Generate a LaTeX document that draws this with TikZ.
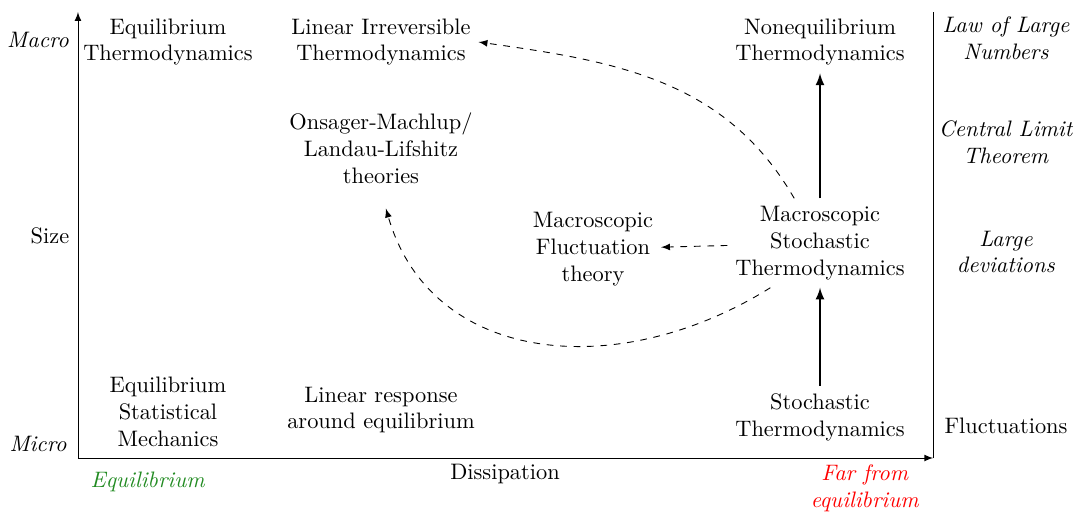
\documentclass[tikz,border=0pt]{standalone}
\usetikzlibrary{arrows}
\definecolor{eqgreen}{RGB}{34,139,34}
\begin{document}
\begin{tikzpicture}[>=latex, every node/.style={align=center}]
      \useasboundingbox (0,0) rectangle (16.923,8.038);
      % axes
      \coordinate (o) at (1.224,0.848);
      \coordinate (ytop) at (1.224,7.849);
      \coordinate (xend) at (14.65,0.848);
      \coordinate (rtop) at (14.65,7.849);
      \draw[->] (o) -- (ytop);
      \draw[->] (o) -- (xend);
      \draw (xend) -- (rtop);
      \draw
        (0.597,7.410) node (macro){\textit{Macro}}
        (0.785,4.333) node (size){Size}
        (0.597,1.068) node (micro){\textit{Micro}}
        (7.928,0.597) node (diss){Dissipation}
        (2.323,0.471) node[text=eqgreen] (eq){\textit{Equilibrium}}
        (13.579,0.377) node[text=red] (far){\textit{Far from}\\\textit{equilibrium}};
      \draw
        (2.637,7.378) node (et){Equilibrium\\Thermodynamics}
        (5.981,7.378) node (lit){Linear Irreversible\\Thermodynamics}
        (12.873,7.378) node (nt){Nonequilibrium\\Thermodynamics}
        (5.981,5.714) node (ons){Onsager-Machlup/\\Landau-Lifshitz\\theories}
        (9.309,4.129) node (mft){Macroscopic\\Fluctuation\\theory}
        (12.873,4.223) node (mst){Macroscopic\\Stochastic\\Thermodynamics}
        (2.637,1.570) node (esm){Equilibrium\\Statistical\\Mechanics}
        (5.981,1.601) node (lr){Linear response\\around equilibrium}
        (12.873,1.491) node (st){Stochastic\\Thermodynamics};
      \draw
        (15.793,7.441) node (lln){\textit{Law of Large}\\\textit{Numbers}}
        (15.793,5.808) node (clt){\textit{Central Limit}\\\textit{Theorem}}
        (15.793,4.082) node (ld){\textit{Large}\\\textit{deviations}}
        (15.793,1.350) node (fl){Fluctuations};
      \begin{scope}[->, thick]
        \draw (st) to (mst);
        \draw (mst) to (nt);
      \end{scope}
      \begin{scope}[->, dashed]
        \draw (mst) to (mft);
        \draw (mst.120) to[out=120,in=-8] (lit.east);
        \draw[shorten >=8pt] (mst.222) to[out=212,in=-74,looseness=1.15] (ons.south);
      \end{scope}
    \end{tikzpicture}
\end{document}
